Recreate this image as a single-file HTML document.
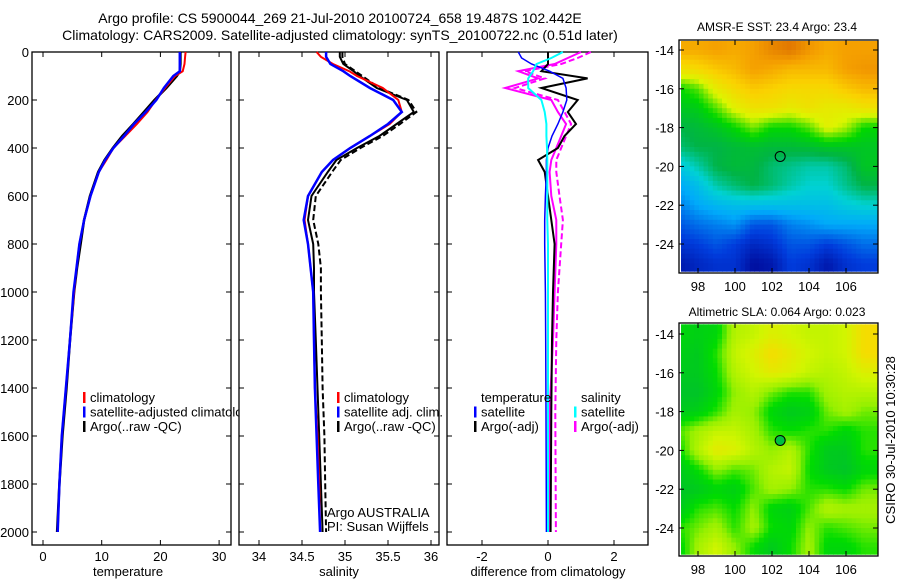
<!DOCTYPE html>
<html><head><meta charset="utf-8"><style>
html,body{margin:0;padding:0;background:#fff;}
svg{display:block;font-family:"Liberation Sans",sans-serif;}
</style></head><body>
<svg id="fig" width="900" height="580" viewBox="0 0 900 580">
<text x="340" y="23" text-anchor="middle" font-size="14">Argo profile: CS 5900044_269 21-Jul-2010 20100724_658 19.487S 102.442E</text>
<text x="340" y="40" text-anchor="middle" font-size="14">Climatology: CARS2009. Satellite-adjusted climatology: synTS_20100722.nc (0.51d later)</text>
</svg>
<script>
// ---- profile data ----
const depths = [0,20,50,80,100,150,200,250,300,350,400,450,500,600,700,800,900,1000,1200,1400,1600,1800,2000];
const tempClim = [24.3,24.2,24.1,23.8,22.5,20.8,19.2,17.8,16.0,14.0,12.0,10.8,9.5,8.1,7.0,6.2,5.7,5.3,4.6,3.9,3.2,2.8,2.5];
const tempSat = [23.3,23.3,23.3,23.3,22.2,20.6,19.3,17.5,15.5,13.8,12.0,10.6,9.5,8.1,7.0,6.2,5.7,5.2,4.6,3.9,3.2,2.8,2.5];
const tempArgo = [23.4,23.4,23.4,23.3,22.8,21.0,19.0,17.2,15.4,13.5,11.9,10.5,9.4,8.0,7.0,6.4,5.8,5.3,4.6,4.0,3.3,2.8,2.4];
const salClim = [34.67,34.72,34.86,35.05,35.14,35.44,35.62,35.66,35.52,35.29,35.06,34.86,34.73,34.57,34.53,34.57,34.6,34.63,34.64,34.65,34.68,34.7,34.71];
const salSat = [34.78,34.78,34.83,34.98,35.06,35.29,35.56,35.66,35.5,35.29,35.06,34.86,34.73,34.57,34.52,34.57,34.6,34.63,34.64,34.65,34.67,34.69,34.71];
const salArgo = [34.94,34.94,34.98,35.1,35.17,35.37,35.72,35.8,35.6,35.4,35.14,34.9,34.8,34.61,34.57,34.63,34.64,34.64,34.66,34.68,34.7,34.72,34.74];
const salArgoAdj = [34.97,34.97,35.0,35.12,35.2,35.4,35.74,35.83,35.64,35.44,35.18,34.95,34.85,34.66,34.63,34.69,34.72,34.72,34.73,34.74,34.76,34.77,34.78];
// difference panel
const diffDepths = [0,25,50,80,110,150,200,250,300,350,400,450,500,600,700,800,1000,1200,1500,2000];
const tdSat = [-0.9,-0.8,-0.5,0.05,0.45,0.55,0.57,0.45,0.3,0.12,0.0,-0.05,-0.05,-0.08,-0.1,-0.1,-0.08,-0.07,-0.06,-0.05];
const tdArgo = [0,0,0,-0.2,1.2,-0.2,0.9,0.6,0.85,0.5,0.3,-0.3,-0.1,0,0.1,0.2,0.15,0.12,0.1,0.08];
const sdSat = [0.45,0.1,-0.35,-0.45,-0.6,-0.6,-0.2,-0.1,-0.05,-0.05,-0.03,-0.02,-0.02,-0.02,-0.02,0,0,0,0,0];
const sdArgo = [1.0,0.6,0.2,-0.9,-0.3,-1.3,0.1,0.3,0.55,0.4,0.25,0.1,0.05,0.1,0.25,0.25,0.2,0.15,0.05,0.02];
const sdArgoAdj = [1.3,0.9,0.4,-0.7,-0.1,-1.0,0.3,0.5,0.7,0.55,0.4,0.25,0.25,0.35,0.45,0.4,0.3,0.25,0.22,0.24];
const depthTicks = [0,200,400,600,800,1000,1200,1400,1600,1800,2000];
const tempTicks = [0,10,20,30];
const salTicks = [34,34.5,35,35.5,36];
const diffTicks = [-2,0,2];
// ---- map data (rows lat -14..-25, cols lon 97..107) ----
const sstGrid = [
[.88,.88,.9,.88,.9,.95,.98,.92,.88,.9,.9],
[.75,.78,.82,.85,.9,.88,.85,.85,.85,.9,.92],
[.55,.6,.72,.78,.82,.8,.78,.78,.78,.82,.85],
[.5,.52,.6,.7,.75,.75,.72,.75,.72,.72,.75],
[.45,.47,.5,.55,.62,.55,.55,.6,.7,.65,.55],
[.42,.45,.45,.47,.48,.47,.47,.48,.5,.5,.5],
[.32,.38,.45,.47,.46,.42,.4,.38,.38,.42,.5],
[.25,.3,.38,.42,.45,.42,.38,.35,.35,.4,.45],
[.2,.25,.28,.3,.3,.3,.3,.3,.3,.33,.35],
[.15,.18,.2,.22,.15,.15,.2,.22,.25,.25,.25],
[.1,.12,.15,.12,.08,.1,.15,.15,.12,.15,.18],
[.05,.08,.1,.1,.03,.05,.12,.1,.05,.1,.12]];
const slaGrid = [
[.2,.15,.2,.55,.6,.7,.65,.6,.6,.65,.85],
[.15,.1,.3,.6,.7,.85,.75,.65,.6,.65,.85],
[.1,.1,.25,.55,.65,.75,.7,.6,.55,.6,.7],
[.05,.05,.2,.45,.55,.4,.3,.3,.5,.55,.55],
[.1,.15,.3,.5,.45,.2,.1,.15,.4,.5,.4],
[.35,.5,.6,.6,.5,.3,.25,.3,.3,.2,.3],
[.25,.55,.75,.7,.55,.45,.55,.3,.1,.1,.3],
[.1,.25,.45,.35,.4,.55,.6,.25,.1,.05,.2],
[.05,.1,.2,.15,.35,.5,.45,.3,.3,.25,.4],
[.1,.3,.35,.25,.45,.2,.15,.35,.55,.5,.5],
[.3,.4,.5,.3,.5,.25,.2,.45,.3,.35,.4],
[.2,.5,.65,.45,.25,.1,.25,.5,.2,.2,.3]];
const latTicks = [-14,-16,-18,-20,-22,-24];
const lonTicks = [98,100,102,104,106];
const argoLon = 102.442, argoLat = -19.487;

const NS='http://www.w3.org/2000/svg';
const svg=document.getElementById('fig');
function mk(tag,attrs,parent){const e=document.createElementNS(NS,tag);for(const k in attrs)e.setAttribute(k,attrs[k]);(parent||svg).appendChild(e);return e;}
function txt(x,y,s,attrs,parent){const e=mk('text',Object.assign({x:x,y:y,'font-size':13},attrs||{}),parent);e.textContent=s;return e;}

const yTop=52, yPerM=480/2000, yBot=545;
const yD=d=>yTop+d*yPerM;
const panels=[
 {name:'temperature',x0:32,x1:231,sx:v=>43+v*5.87,ticks:tempTicks,label:'temperature',lx:128},
 {name:'salinity',x0:239,x1:439,sx:v=>259+(v-34)*86,ticks:salTicks,label:'salinity',lx:339},
 {name:'difference',x0:447,x1:648,sx:v=>548+v*33,ticks:diffTicks,label:'difference from climatology',lx:548}
];
panels.forEach((p,i)=>{
 const g=mk('g',{});
 
 
 const r=mk('rect',{x:p.x0,y:yTop,width:p.x1-p.x0,height:yBot-yTop,fill:'#fff',stroke:'#000','stroke-width':1.3},g);
 
 
 depthTicks.forEach(d=>{
  const y=yD(d);
  mk('line',{x1:p.x0,x2:p.x0+5,y1:y,y2:y,stroke:'#000'},g);
  mk('line',{x1:p.x1-5,x2:p.x1,y1:y,y2:y,stroke:'#000'},g);
  if(i===0){const t=txt(29,y+5,String(d),{'text-anchor':'end'},g);
   
   }
 });
 p.ticks.forEach(v=>{
  const x=p.sx(v);
  mk('line',{x1:x,x2:x,y1:yTop,y2:yTop+5,stroke:'#000'},g);
  mk('line',{x1:x,x2:x,y1:yBot-5,y2:yBot,stroke:'#000'},g);
  const t=txt(x,561,String(v),{'text-anchor':'middle'},g);
  
  
 });
 const l=txt(p.lx,576,p.label,{'text-anchor':'middle'},g);
 
 
 p.g=g;
});
function line(p,xs,ds,color,name,dash,w){
 const pts=xs.map((v,k)=>p.sx(v).toFixed(1)+','+yD(ds[k]).toFixed(1)).join(' ');
 const e=mk('polyline',{points:pts,fill:'none',stroke:color,'stroke-width':w||2,'stroke-dasharray':dash||'none'},p.g);
 
 
}
const P=panels;
line(P[0],tempArgo,depths,'#000','temp-argo-line','',2.5);
line(P[0],tempClim,depths,'#f00','temp-climatology-line');
line(P[0],tempSat,depths,'#00f','temp-satellite-line',null,2.5);
line(P[1],salArgoAdj,depths,'#000','sal-argo-adj-line','6,3',2);
line(P[1],salArgo,depths,'#000','sal-argo-line','',2);
line(P[1],salClim,depths,'#f00','sal-climatology-line');
line(P[1],salSat,depths,'#00f','sal-satellite-line',null,2.5);
line(P[2],sdArgoAdj,diffDepths,'#f0f','sal-diff-argo-adj-line','6,3',2);
line(P[2],sdArgo,diffDepths,'#f0f','sal-diff-argo-line','',2);
line(P[2],tdArgo,diffDepths,'#000','temp-diff-argo-line','',2);
line(P[2],tdSat,diffDepths,'#00f','temp-diff-satellite-line','',1.5);
line(P[2],sdSat,diffDepths,'#0ff','sal-diff-satellite-line','',2);

function legend(items,mx,y0,parent){
 items.forEach((it,k)=>{
  const y=y0+k*14.5;
  if(it.c) mk('rect',{x:mx,y:y-10,width:2.5,height:11,fill:it.c},parent);
  const t=txt(mx+7,y,it.t,{},parent);
  
  
 });
}
legend([{c:'#f00',t:'climatology'},{c:'#00f',t:'satellite-adjusted climatology'},{c:'#000',t:'Argo(..raw -QC)'}],83,402,P[0].g);
legend([{c:'#f00',t:'climatology'},{c:'#00f',t:'satellite adj. clim.'},{c:'#000',t:'Argo(..raw -QC)'}],337,402,P[1].g);
legend([{c:null,t:'temperature'},{c:'#00f',t:'satellite'},{c:'#000',t:'Argo(-adj)'}],474,402,P[2].g);
legend([{c:null,t:'salinity'},{c:'#0ff',t:'satellite'},{c:'#f0f',t:'Argo(-adj)'}],574,402,P[2].g);
let a1=txt(327,517,'Argo AUSTRALIA',{},P[1].g);


let a2=txt(327,531,'PI: Susan Wijffels',{},P[1].g);



// ---- maps ----
function lerp(a,b,t){return a+(b-a)*t;}
function sample(grid,lon,lat){
 let c=Math.max(0,Math.min(10,lon-97)), r=Math.max(0,Math.min(11,-14-lat));
 const c0=Math.min(9,Math.floor(c)), r0=Math.min(10,Math.floor(r));
 const tc=c-c0, tr=r-r0;
 return lerp(lerp(grid[r0][c0],grid[r0][c0+1],tc),lerp(grid[r0+1][c0],grid[r0+1][c0+1],tc),tr);
}
function cmap(stops,v){
 for(let k=0;k<stops.length-1;k++){const a=stops[k],b=stops[k+1];
  if(v<=b[0]){const t=(v-a[0])/(b[0]-a[0]);
   return 'rgb('+[1,2,3].map(j=>Math.round(lerp(a[j],b[j],Math.max(0,t)))).join(',')+')';}}
 const s=stops[stops.length-1];return 'rgb('+s[1]+','+s[2]+','+s[3]+')';
}
const sstStops=[[0,0,0,140],[0.12,0,60,220],[0.25,0,170,250],[0.35,0,210,210],[0.45,0,180,70],[0.55,0,215,0],[0.68,220,245,0],[0.8,250,210,0],[0.9,245,160,0],[1,220,110,0]];
const slaStops=[[0,0,190,50],[0.25,0,220,0],[0.45,150,240,0],[0.65,210,245,0],[0.85,245,220,0],[1,245,180,0]];
function drawMap(cfg){
 const g=mk('g',{});
 
 
 const lonX=lon=>698+(lon-98)*18.5;
 const latY=lat=>cfg.y14+(-14-lat)*19.4;
 const step=0.25;
 for(let lat=cfg.latTop; lat>cfg.latBot; lat-=step){
  for(let lon=97.05; lon<107.75; lon+=step){
   const v=sample(cfg.grid,lon+step/2,lat-step/2);
   const x0=Math.max(681,lonX(lon)), x1=Math.min(877,lonX(lon+step));
   const y0=Math.max(cfg.boxY0+1,latY(lat)), y1=Math.min(cfg.boxY1-2,latY(lat-step));
   if(x1>x0&&y1>y0) mk('rect',{x:x0.toFixed(1),y:y0.toFixed(1),width:(x1-x0+0.6).toFixed(1),height:(y1-y0+0.6).toFixed(1),fill:cmap(cfg.stops,v)},g);
  }
 }
 const b=mk('rect',{x:679,y:cfg.boxY0,width:199,height:cfg.boxY1-cfg.boxY0,fill:'none',stroke:'#000','stroke-width':1.3},g);
 
 
 latTicks.forEach(lat=>{const y=latY(lat);
  mk('line',{x1:679,x2:684,y1:y,y2:y,stroke:'#000'},g);
  mk('line',{x1:873,x2:878,y1:y,y2:y,stroke:'#000'},g);
  const t=txt(674,y+5,String(lat),{'text-anchor':'end'},g);
  
  });
 lonTicks.forEach(lon=>{const x=lonX(lon);
  mk('line',{x1:x,x2:x,y1:cfg.boxY0,y2:cfg.boxY0+5,stroke:'#000'},g);
  mk('line',{x1:x,x2:x,y1:cfg.boxY1-5,y2:cfg.boxY1,stroke:'#000'},g);
  const t=txt(x,cfg.boxY1+18,String(lon),{'text-anchor':'middle'},g);
  
  });
 const c=mk('circle',{cx:lonX(argoLon),cy:latY(argoLat),r:5,fill:cfg.dotFill,stroke:'#000','stroke-width':1},g);
 
 
 const tt=txt(777,cfg.titleY,cfg.title,{'text-anchor':'middle','font-size':12},g);
 
 
}
drawMap({name:'sst-map',grid:sstGrid,stops:sstStops,y14:50,latTop:-13.5,latBot:-25.5,boxY0:40,boxY1:273,title:'AMSR-E SST: 23.4 Argo: 23.4',titleY:31,dotFill:'none'});
drawMap({name:'sla-map',grid:slaGrid,stops:slaStops,y14:334,latTop:-13.5,latBot:-25.5,boxY0:323,boxY1:556,title:'Altimetric SLA: 0.064 Argo: 0.023',titleY:316,dotFill:'#00c040'});
const cs=txt(0,0,'CSIRO 30-Jul-2010 10:30:28',{'text-anchor':'middle','font-size':13,transform:'translate(895,440) rotate(-90)'});


</script>
</body></html>
